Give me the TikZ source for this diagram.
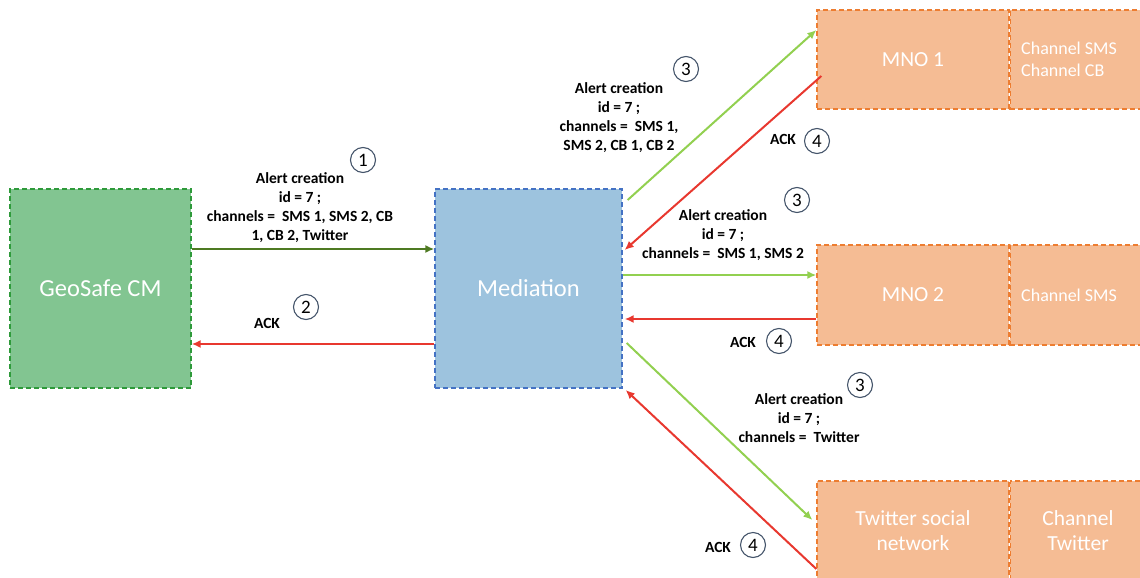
\documentclass[tikz,border=0pt]{standalone}
\usepackage{fontspec}
\setmainfont{Carlito}
\usetikzlibrary{arrows.meta}
\definecolor{geofill}{HTML}{82C591}
\definecolor{geoline}{HTML}{2E9A3A}
\definecolor{medfill}{HTML}{9DC3DE}
\definecolor{medline}{HTML}{4472C4}
\definecolor{orfill}{HTML}{F5BC94}
\definecolor{orline}{HTML}{ED7D31}
\definecolor{dkgreen}{HTML}{4E7A22}
\definecolor{ltgreen}{HTML}{92D050}
\definecolor{ackred}{HTML}{E8382F}
\definecolor{circline}{HTML}{44546A}
\tikzset{
  box/.style={draw, line width=1.3pt, dash pattern=on 5pt off 3pt, inner sep=0pt, text=white, align=center},
  geobox/.style={box, fill=geofill, draw=geoline, font=\fontsize{24.5}{28}\selectfont},
  medbox/.style={box, fill=medfill, draw=medline, font=\fontsize{24.5}{28}\selectfont},
  orbox/.style={box, fill=orfill, draw=orline, font=\fontsize{21.5}{25}\selectfont},
  chbox/.style={box, fill=orfill, draw=orline},
  whitetxt/.style={text=white, align=center, inner sep=0pt, font=\fontsize{21.5}{25}\selectfont},
  chtxt/.style={text=white, align=left, inner sep=0pt, anchor=west, font=\fontsize{18}{22}\selectfont},
  arr/.style={-{Latex[length=9pt,width=8pt]}, line width=2pt},
  lbl/.style={font=\bfseries\fontsize{15.5}{19}\selectfont, align=center, inner sep=0pt},
  num/.style={circle, draw=circline, line width=1.1pt, minimum size=25pt, inner sep=0pt, font=\fontsize{19}{20}\selectfont}
}
\begin{document}
\begin{tikzpicture}[x=1pt,y=-1pt]
\useasboundingbox (0,0) rectangle (1140,578);
% boxes
\node[geobox, minimum width=181pt, minimum height=199pt] (geo) at (100.5,288.5) {GeoSafe CM};
\node[medbox, minimum width=187pt, minimum height=199pt] (med) at (528.5,288.5) {Mediation};
\node[orbox, minimum width=192pt, minimum height=99pt] (mno1) at (913,59.5) {MNO 1};
\node[chbox, minimum width=150pt, minimum height=99pt, anchor=west] (ch1) at (mno1.east) {};
\node[chtxt] (ch1t) at (1021,59.5) {Channel SMS\\Channel CB};
\node[orbox, minimum width=192pt, minimum height=100pt] (mno2) at (913,295) {MNO 2};
\node[chbox, minimum width=150pt, minimum height=100pt, anchor=west] (ch2) at (mno2.east) {};
\node[chtxt] (ch2t) at (1021,295) {Channel SMS};
\node[orbox, minimum width=192pt, minimum height=102pt] (tw) at (913,532) {};
\node[whitetxt] (twt) at (913,531) {Twitter social\\network};
\node[chbox, minimum width=150pt, minimum height=102pt, anchor=west] (ch3) at (tw.east) {};
\node[whitetxt] (ch3t) at (1078,531) {Channel\\Twitter};
% arrows geo <-> med
\draw[arr, dkgreen] ([yshift=39.5pt]geo.east) -- ([yshift=39.5pt]med.west);
\draw[arr, ackred] ([yshift=-55.5pt]med.west) -- ([yshift=-55.5pt]geo.east);
% med <-> mno1
\draw[arr, ltgreen] ([yshift=88.5pt,xshift=5pt]med.east) -- ([yshift=29.5pt]mno1.west);
\draw[arr, ackred] ([yshift=-16.5pt,xshift=5pt]mno1.west) -- ([yshift=38.5pt,xshift=2pt]med.east);
% med <-> mno2
\draw[arr, ltgreen] ([yshift=13.5pt]med.east) -- ([yshift=20pt]mno2.west);
\draw[arr, ackred] ([yshift=-24pt]mno2.west) -- ([yshift=-30.5pt,xshift=2pt]med.east);
% med <-> twitter
\draw[arr, ltgreen] ([yshift=-54.5pt,xshift=4pt]med.east) -- ([yshift=12pt,xshift=-4pt]tw.west);
\draw[arr, ackred] ([yshift=-37pt]tw.west) -- ([yshift=-101.5pt,xshift=3pt]med.east);
% labels
\node[lbl] (l1) at (300,208) {Alert creation\\id = 7 ;\\channels = \ SMS 1, SMS 2, CB\\1, CB 2, Twitter};
\node[num] (n1) at (363,160) {1};
\node[lbl] (a2) at (267,323) {ACK};
\node[num] (n2) at (306,307) {2};
\node[lbl] (l3a) at (619,117.5) {Alert creation\\id = 7 ;\\channels = \ SMS 1,\\SMS 2, CB 1, CB 2};
\node[num] (n3a) at (686,69) {3};
\node[lbl] (a4a) at (783,139) {ACK};
\node[num] (n4a) at (817,141) {4};
\node[lbl] (l3b) at (723,235) {Alert creation\\id = 7 ;\\channels = \ SMS 1, SMS 2};
\node[num] (n3b) at (797,200) {3};
\node[lbl] (a4b) at (743,342) {ACK};
\node[num] (n4b) at (779,341) {4};
\node[lbl] (l3c) at (799,418) {Alert creation\\id = 7 ;\\channels = \ Twitter};
\node[num] (n3c) at (860,385) {3};
\node[lbl] (a4c) at (718,547) {ACK};
\node[num] (n4c) at (753,545) {4};
\end{tikzpicture}
\end{document}
